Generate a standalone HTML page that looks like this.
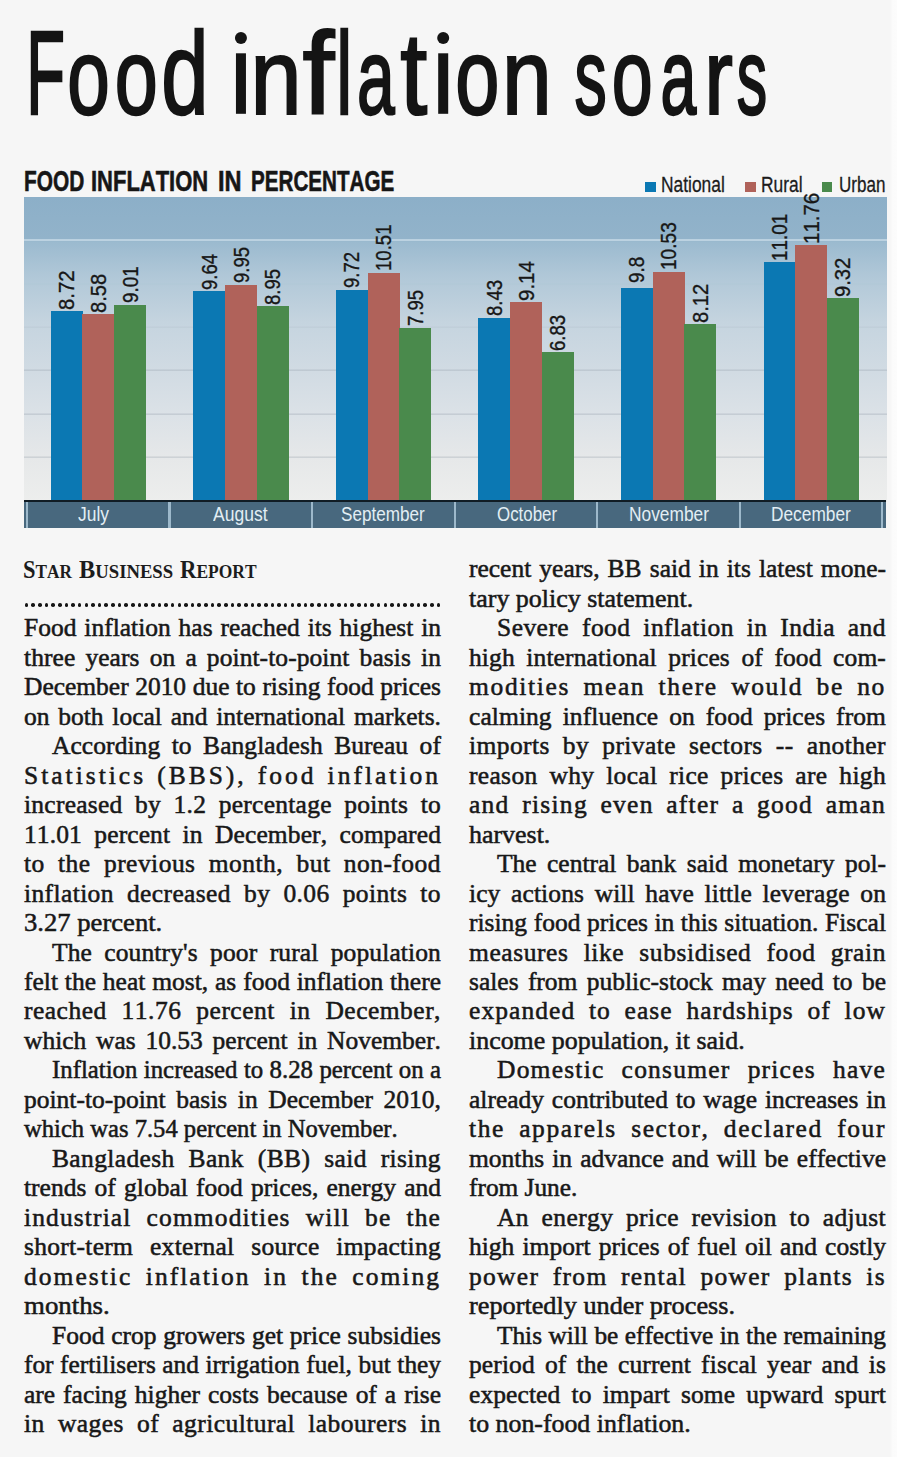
<!DOCTYPE html>
<html><head><meta charset="utf-8">
<style>
*{margin:0;padding:0;box-sizing:border-box}
html,body{width:897px;height:1457px;overflow:hidden;background:#f6f6f6}
body{position:relative;font-family:"Liberation Serif",serif;color:#1e1e1e}
.strip{position:absolute;left:890px;top:0;width:7px;height:1457px;background:linear-gradient(to right,#f6f6f6 0px,#fbfbfb 2.5px,#fcfcfc 7px)}
.p{position:absolute;white-space:nowrap;transform-origin:0 0;font-kerning:none}
.b{position:absolute}
svg text{font-family:'Liberation Sans';fill:#141414;stroke:#141414;font-kerning:none}
.chart{left:24px;top:197px;width:863px;height:305px;
 background:linear-gradient(to bottom,#8cafc8 0px,#92b3ca 42px,#9bbacf 45px,#b1c8d8 80px,#c5d4df 125px,#d1dbe3 175px,#dce2e7 220px,#e6e8e9 262px,#edeeed 305px)}
.lab{font-family:"Liberation Sans",sans-serif;color:#171717;-webkit-text-stroke:0.35px #171717}
.axis{left:24px;top:500px;width:862.4px;height:28.3px;background:#48687e}
.bt{font-size:23.5px;line-height:23.5px;color:#181818;-webkit-text-stroke:0.5px #181818}
.j{white-space:normal;text-align:justify;text-align-last:justify;height:23.5px}
.dot{width:3.6px;height:3.6px;border-radius:50%;background:#161616}
</style></head><body>
<div class="strip"></div>
<svg class="b" style="left:0;top:0" width="897" height="140"><g transform="translate(26.30,113.60) scale(0.5330,1)"><text x="0" y="0" font-size="119" vector-effect="non-scaling-stroke" stroke-width="2.0">F</text></g><g transform="translate(67.29,113.60) scale(0.7079,1)"><text x="0" y="0" font-size="108" vector-effect="non-scaling-stroke" stroke-width="2.0">o</text></g><g transform="translate(114.75,113.60) scale(0.7158,1)"><text x="0" y="0" font-size="108" vector-effect="non-scaling-stroke" stroke-width="2.0">o</text></g><g transform="translate(161.23,113.60) scale(0.7323,1)"><text x="0" y="0" font-size="116" vector-effect="non-scaling-stroke" stroke-width="2.0">d</text></g><rect x="235.95" y="53.3" width="10" height="60.5" fill="#141414"/><circle cx="240.95" cy="37.9" r="6" fill="#141414"/><g transform="translate(250.40,113.60) scale(0.8501,1)"><text x="0" y="0" font-size="108" vector-effect="non-scaling-stroke" stroke-width="2.0">n</text></g><g transform="translate(302.38,113.60) scale(0.9884,1)"><text x="0" y="0" font-size="116" vector-effect="non-scaling-stroke" stroke-width="2.0">f</text></g><g transform="translate(336.24,113.60) scale(0.6200,1)"><text x="0" y="0" font-size="116" vector-effect="non-scaling-stroke" stroke-width="2.0">l</text></g><g transform="translate(356.92,113.60) scale(0.6273,1)"><text x="0" y="0" font-size="108" vector-effect="non-scaling-stroke" stroke-width="2.0">a</text></g><g transform="translate(400.13,113.60) scale(0.8372,1)"><text x="0" y="0" font-size="116" vector-effect="non-scaling-stroke" stroke-width="2.0">t</text></g><rect x="438.20" y="53.3" width="10" height="60.5" fill="#141414"/><circle cx="443.20" cy="37.9" r="6" fill="#141414"/><g transform="translate(455.16,113.60) scale(0.7354,1)"><text x="0" y="0" font-size="108" vector-effect="non-scaling-stroke" stroke-width="2.0">o</text></g><g transform="translate(502.06,113.60) scale(0.8283,1)"><text x="0" y="0" font-size="108" vector-effect="non-scaling-stroke" stroke-width="2.0">n</text></g><g transform="translate(574.51,113.60) scale(0.5967,1)"><text x="0" y="0" font-size="108" vector-effect="non-scaling-stroke" stroke-width="2.0">s</text></g><g transform="translate(611.71,113.60) scale(0.6824,1)"><text x="0" y="0" font-size="108" vector-effect="non-scaling-stroke" stroke-width="2.0">o</text></g><g transform="translate(660.56,113.60) scale(0.5966,1)"><text x="0" y="0" font-size="108" vector-effect="non-scaling-stroke" stroke-width="2.0">a</text></g><g transform="translate(704.29,113.60) scale(0.7963,1)"><text x="0" y="0" font-size="108" vector-effect="non-scaling-stroke" stroke-width="2.0">r</text></g><g transform="translate(736.81,113.60) scale(0.5627,1)"><text x="0" y="0" font-size="108" vector-effect="non-scaling-stroke" stroke-width="2.0">s</text></g></svg>
<span class="p" style="left:23.80px;top:165.82px;font-family:'Liberation Sans';font-weight:bold;font-size:29.5px;line-height:29.5px;color:#161616;transform:scaleX(0.7073);-webkit-text-stroke:0.6px #161616;">FOOD</span>
<span class="p" style="left:91.33px;top:165.82px;font-family:'Liberation Sans';font-weight:bold;font-size:29.5px;line-height:29.5px;color:#161616;transform:scaleX(0.7447);-webkit-text-stroke:0.6px #161616;">INFLATION</span>
<span class="p" style="left:217.72px;top:165.82px;font-family:'Liberation Sans';font-weight:bold;font-size:29.5px;line-height:29.5px;color:#161616;transform:scaleX(0.7988);-webkit-text-stroke:0.6px #161616;">IN</span>
<span class="p" style="left:251.32px;top:165.82px;font-family:'Liberation Sans';font-weight:bold;font-size:29.5px;line-height:29.5px;color:#161616;transform:scaleX(0.6988);-webkit-text-stroke:0.6px #161616;">PERCENTAGE</span>
<div class="b" style="left:645px;top:181.6px;width:11px;height:10.8px;background:#0b78b3"></div>
<span class="p" style="left:661.22px;top:173.67px;font-family:'Liberation Sans';font-weight:normal;font-size:22px;line-height:22px;color:#1c1c1c;transform:scaleX(0.7903);-webkit-text-stroke:0.3px #1c1c1c;">National</span>
<div class="b" style="left:745px;top:181.6px;width:11px;height:10.8px;background:#b0625a"></div>
<span class="p" style="left:760.72px;top:173.67px;font-family:'Liberation Sans';font-weight:normal;font-size:22px;line-height:22px;color:#1c1c1c;transform:scaleX(0.7911);-webkit-text-stroke:0.3px #1c1c1c;">Rural</span>
<div class="b" style="left:821.6px;top:181.6px;width:10.899999999999977px;height:10.8px;background:#4a8a4c"></div>
<span class="p" style="left:838.54px;top:173.67px;font-family:'Liberation Sans';font-weight:normal;font-size:22px;line-height:22px;color:#1c1c1c;transform:scaleX(0.7747);-webkit-text-stroke:0.3px #1c1c1c;">Urban</span>
<div class="b chart"></div>
<div class="b" style="left:24px;top:456px;width:863px;height:1px;background:rgba(120,132,145,0.13)"></div>
<div class="b" style="left:24px;top:457px;width:863px;height:1px;background:rgba(120,132,145,0.22)"></div>
<div class="b" style="left:24px;top:413px;width:863px;height:1px;background:rgba(120,132,145,0.13)"></div>
<div class="b" style="left:24px;top:414px;width:863px;height:1px;background:rgba(120,132,145,0.22)"></div>
<div class="b" style="left:24px;top:369px;width:863px;height:1px;background:rgba(120,132,145,0.12)"></div>
<div class="b" style="left:24px;top:370px;width:863px;height:1px;background:rgba(120,132,145,0.20)"></div>
<div class="b" style="left:24px;top:326px;width:863px;height:1px;background:rgba(120,132,145,0.04)"></div>
<div class="b" style="left:24px;top:327px;width:863px;height:1px;background:rgba(120,132,145,0.07)"></div>
<div class="b" style="left:24px;top:283px;width:863px;height:1px;background:rgba(120,132,145,0.01)"></div>
<div class="b" style="left:24px;top:284px;width:863px;height:1px;background:rgba(120,132,145,0.02)"></div>
<div class="b" style="left:24px;top:239.16px;width:863px;height:2px;background:rgba(225,238,246,0.5)"></div>
<div class="b" style="left:50.77px;top:311.40px;width:31.97px;height:190.60px;background:#0b78b3"></div>
<div class="b" style="left:82.44px;top:314.44px;width:31.97px;height:187.56px;background:#b0625a"></div>
<div class="b" style="left:114.11px;top:305.10px;width:31.97px;height:196.90px;background:#4a8a4c"></div>
<div class="b" style="left:193.32px;top:291.42px;width:31.97px;height:210.58px;background:#0b78b3"></div>
<div class="b" style="left:224.99px;top:284.69px;width:31.97px;height:217.31px;background:#b0625a"></div>
<div class="b" style="left:256.66px;top:306.41px;width:31.97px;height:195.59px;background:#4a8a4c"></div>
<div class="b" style="left:335.87px;top:289.68px;width:31.97px;height:212.32px;background:#0b78b3"></div>
<div class="b" style="left:367.54px;top:272.52px;width:31.97px;height:229.48px;background:#b0625a"></div>
<div class="b" style="left:399.21px;top:328.13px;width:31.97px;height:173.87px;background:#4a8a4c"></div>
<div class="b" style="left:478.42px;top:317.70px;width:31.97px;height:184.30px;background:#0b78b3"></div>
<div class="b" style="left:510.09px;top:302.28px;width:31.97px;height:199.72px;background:#b0625a"></div>
<div class="b" style="left:541.76px;top:352.45px;width:31.97px;height:149.55px;background:#4a8a4c"></div>
<div class="b" style="left:620.97px;top:287.94px;width:31.97px;height:214.06px;background:#0b78b3"></div>
<div class="b" style="left:652.64px;top:272.09px;width:31.97px;height:229.91px;background:#b0625a"></div>
<div class="b" style="left:684.31px;top:324.43px;width:31.97px;height:177.57px;background:#4a8a4c"></div>
<div class="b" style="left:763.52px;top:261.66px;width:31.97px;height:240.34px;background:#0b78b3"></div>
<div class="b" style="left:795.19px;top:245.37px;width:31.97px;height:256.63px;background:#b0625a"></div>
<div class="b" style="left:826.86px;top:298.37px;width:31.97px;height:203.63px;background:#4a8a4c"></div>
<span class="p lab" style="left:56.28px;top:309.68px;font-size:22.0px;line-height:22.0px;transform:rotate(-90deg) scaleX(0.9201)">8.72</span>
<span class="p lab" style="left:87.95px;top:312.72px;font-size:22.0px;line-height:22.0px;transform:rotate(-90deg) scaleX(0.9167)">8.58</span>
<span class="p lab" style="left:119.62px;top:303.39px;font-size:22.0px;line-height:22.0px;transform:rotate(-90deg) scaleX(0.8621)">9.01</span>
<span class="p lab" style="left:198.83px;top:289.69px;font-size:22.0px;line-height:22.0px;transform:rotate(-90deg) scaleX(0.8450)">9.64</span>
<span class="p lab" style="left:230.50px;top:282.96px;font-size:22.0px;line-height:22.0px;transform:rotate(-90deg) scaleX(0.8450)">9.95</span>
<span class="p lab" style="left:262.17px;top:304.61px;font-size:22.0px;line-height:22.0px;transform:rotate(-90deg) scaleX(0.8450)">8.95</span>
<span class="p lab" style="left:341.38px;top:287.95px;font-size:22.0px;line-height:22.0px;transform:rotate(-90deg) scaleX(0.8450)">9.72</span>
<span class="p lab" style="left:373.05px;top:271.34px;font-size:22.0px;line-height:22.0px;transform:rotate(-90deg) scaleX(0.8450)">10.51</span>
<span class="p lab" style="left:404.72px;top:326.48px;font-size:22.0px;line-height:22.0px;transform:rotate(-90deg) scaleX(0.8450)">7.95</span>
<span class="p lab" style="left:483.93px;top:315.91px;font-size:22.0px;line-height:22.0px;transform:rotate(-90deg) scaleX(0.8450)">8.43</span>
<span class="p lab" style="left:515.60px;top:300.64px;font-size:22.0px;line-height:22.0px;transform:rotate(-90deg) scaleX(0.9333)">9.14</span>
<span class="p lab" style="left:547.27px;top:350.80px;font-size:22.0px;line-height:22.0px;transform:rotate(-90deg) scaleX(0.8450)">6.83</span>
<span class="p lab" style="left:626.48px;top:282.83px;font-size:22.0px;line-height:22.0px;transform:rotate(-90deg) scaleX(0.8638)">9.8</span>
<span class="p lab" style="left:658.15px;top:270.04px;font-size:22.0px;line-height:22.0px;transform:rotate(-90deg) scaleX(0.8681)">10.53</span>
<span class="p lab" style="left:689.82px;top:322.71px;font-size:22.0px;line-height:22.0px;transform:rotate(-90deg) scaleX(0.9177)">8.12</span>
<span class="p lab" style="left:769.03px;top:260.50px;font-size:22.0px;line-height:22.0px;transform:rotate(-90deg) scaleX(0.8584)">11.01</span>
<span class="p lab" style="left:800.70px;top:244.33px;font-size:22.0px;line-height:22.0px;transform:rotate(-90deg) scaleX(0.9311)">11.76</span>
<span class="p lab" style="left:832.37px;top:296.72px;font-size:22.0px;line-height:22.0px;transform:rotate(-90deg) scaleX(0.9194)">9.32</span>
<div class="b axis"></div>
<div class="b" style="left:24px;top:499.6px;width:862.4px;height:2.6px;background:#101c24"></div>
<div class="b" style="left:25.90px;top:502px;width:2.2px;height:26.3px;background:#9db9cb"></div>
<div class="b" style="left:168.45px;top:502px;width:2.2px;height:26.3px;background:#9db9cb"></div>
<div class="b" style="left:311.00px;top:502px;width:2.2px;height:26.3px;background:#9db9cb"></div>
<div class="b" style="left:453.55px;top:502px;width:2.2px;height:26.3px;background:#9db9cb"></div>
<div class="b" style="left:596.10px;top:502px;width:2.2px;height:26.3px;background:#9db9cb"></div>
<div class="b" style="left:738.65px;top:502px;width:2.2px;height:26.3px;background:#9db9cb"></div>
<div class="b" style="left:881.20px;top:502px;width:2.2px;height:26.3px;background:#9db9cb"></div>
<span class="p" style="left:77.73px;top:503.94px;font-family:'Liberation Sans';font-weight:normal;font-size:20.5px;line-height:20.5px;color:#e2eef4;transform:scaleX(0.8505);">July</span>
<span class="p" style="left:213.27px;top:503.94px;font-family:'Liberation Sans';font-weight:normal;font-size:20.5px;line-height:20.5px;color:#e2eef4;transform:scaleX(0.8549);">August</span>
<span class="p" style="left:341.12px;top:503.94px;font-family:'Liberation Sans';font-weight:normal;font-size:20.5px;line-height:20.5px;color:#e2eef4;transform:scaleX(0.8353);">September</span>
<span class="p" style="left:496.50px;top:503.94px;font-family:'Liberation Sans';font-weight:normal;font-size:20.5px;line-height:20.5px;color:#e2eef4;transform:scaleX(0.8239);">October</span>
<span class="p" style="left:628.88px;top:503.94px;font-family:'Liberation Sans';font-weight:normal;font-size:20.5px;line-height:20.5px;color:#e2eef4;transform:scaleX(0.8461);">November</span>
<span class="p" style="left:771.18px;top:503.94px;font-family:'Liberation Sans';font-weight:normal;font-size:20.5px;line-height:20.5px;color:#e2eef4;transform:scaleX(0.8440);">December</span>
<div class="p bt j" style="left:24.00px;top:616.38px;width:384.33px;transform:scale(1.0850,1.06)">Food inflation has reached its highest in</div>
<div class="p bt j" style="left:24.00px;top:645.85px;width:384.33px;transform:scale(1.0850,1.06);letter-spacing:0.064px">three years on a point-to-point basis in</div>
<div class="p bt j" style="left:24.00px;top:675.32px;width:384.88px;transform:scale(1.0835,1.06)">December 2010 due to rising food prices</div>
<div class="p bt j" style="left:24.00px;top:704.79px;width:384.33px;transform:scale(1.0850,1.06)">on both local and international markets.</div>
<div class="p bt j" style="left:52.00px;top:734.26px;width:358.53px;transform:scale(1.0850,1.06);letter-spacing:0.065px">According to Bangladesh Bureau of</div>
<div class="p bt j" style="left:24.00px;top:763.73px;width:384.33px;transform:scale(1.0850,1.06);letter-spacing:2.767px">Statistics (BBS), food inflation</div>
<div class="p bt j" style="left:24.00px;top:793.20px;width:384.33px;transform:scale(1.0850,1.06);letter-spacing:0.236px">increased by 1.2 percentage points to</div>
<div class="p bt j" style="left:24.00px;top:822.67px;width:384.33px;transform:scale(1.0850,1.06);letter-spacing:0.101px">11.01 percent in December, compared</div>
<div class="p bt j" style="left:24.00px;top:852.14px;width:384.33px;transform:scale(1.0850,1.06);letter-spacing:0.437px">to the previous month, but non-food</div>
<div class="p bt j" style="left:24.00px;top:881.61px;width:384.33px;transform:scale(1.0850,1.06);letter-spacing:0.358px">inflation decreased by 0.06 points to</div>
<span class="p bt" style="left:24.00px;top:911.08px;transform:scale(1.1330,1.06)">3.27 percent.</span>
<div class="p bt j" style="left:52.00px;top:940.55px;width:358.53px;transform:scale(1.0850,1.06);letter-spacing:0.113px">The country's poor rural population</div>
<div class="p bt j" style="left:24.00px;top:970.02px;width:384.33px;transform:scale(1.0850,1.06)">felt the heat most, as food inflation there</div>
<div class="p bt j" style="left:24.00px;top:999.49px;width:384.33px;transform:scale(1.0850,1.06);letter-spacing:0.454px">reached 11.76 percent in December,</div>
<div class="p bt j" style="left:24.00px;top:1028.96px;width:384.33px;transform:scale(1.0850,1.06)">which was 10.53 percent in November.</div>
<div class="p bt j" style="left:52.00px;top:1058.43px;width:368.48px;transform:scale(1.0557,1.06)">Inflation increased to 8.28 percent on a</div>
<div class="p bt j" style="left:24.00px;top:1087.90px;width:384.33px;transform:scale(1.0850,1.06)">point-to-point basis in December 2010,</div>
<span class="p bt" style="left:24.00px;top:1117.37px;transform:scale(1.0467,1.06)">which was 7.54 percent in November.</span>
<div class="p bt j" style="left:52.00px;top:1146.84px;width:358.53px;transform:scale(1.0850,1.06);letter-spacing:0.337px">Bangladesh Bank (BB) said rising</div>
<div class="p bt j" style="left:24.00px;top:1176.31px;width:384.33px;transform:scale(1.0850,1.06)">trends of global food prices, energy and</div>
<div class="p bt j" style="left:24.00px;top:1205.78px;width:384.33px;transform:scale(1.0850,1.06);letter-spacing:1.029px">industrial commodities will be the</div>
<div class="p bt j" style="left:24.00px;top:1235.25px;width:384.33px;transform:scale(1.0850,1.06);letter-spacing:0.278px">short-term external source impacting</div>
<div class="p bt j" style="left:24.00px;top:1264.72px;width:384.33px;transform:scale(1.0850,1.06);letter-spacing:1.865px">domestic inflation in the coming</div>
<span class="p bt" style="left:24.00px;top:1294.19px;transform:scale(1.1424,1.06)">months.</span>
<div class="p bt j" style="left:52.00px;top:1323.66px;width:358.53px;transform:scale(1.0850,1.06)">Food crop growers get price subsidies</div>
<div class="p bt j" style="left:24.00px;top:1353.13px;width:386.83px;transform:scale(1.0780,1.06)">for fertilisers and irrigation fuel, but they</div>
<div class="p bt j" style="left:24.00px;top:1382.60px;width:384.33px;transform:scale(1.0850,1.06)">are facing higher costs because of a rise</div>
<div class="p bt j" style="left:24.00px;top:1412.07px;width:384.33px;transform:scale(1.0850,1.06);letter-spacing:0.401px">in wages of agricultural labourers in</div>
<div class="p bt j" style="left:469.00px;top:557.44px;width:384.33px;transform:scale(1.0850,1.06)">recent years, BB said in its latest mone-</div>
<span class="p bt" style="left:469.00px;top:586.91px;transform:scale(1.1048,1.06)">tary policy statement.</span>
<div class="p bt j" style="left:497.00px;top:616.38px;width:358.53px;transform:scale(1.0850,1.06);letter-spacing:0.423px">Severe food inflation in India and</div>
<div class="p bt j" style="left:469.00px;top:645.85px;width:384.33px;transform:scale(1.0850,1.06);letter-spacing:0.113px">high international prices of food com-</div>
<div class="p bt j" style="left:469.00px;top:675.32px;width:384.33px;transform:scale(1.0850,1.06);letter-spacing:1.530px">modities mean there would be no</div>
<div class="p bt j" style="left:469.00px;top:704.79px;width:384.33px;transform:scale(1.0850,1.06);letter-spacing:0.075px">calming influence on food prices from</div>
<div class="p bt j" style="left:469.00px;top:734.26px;width:384.33px;transform:scale(1.0850,1.06);letter-spacing:0.372px">imports by private sectors -- another</div>
<div class="p bt j" style="left:469.00px;top:763.73px;width:384.33px;transform:scale(1.0850,1.06);letter-spacing:0.307px">reason why local rice prices are high</div>
<div class="p bt j" style="left:469.00px;top:793.20px;width:384.33px;transform:scale(1.0850,1.06);letter-spacing:1.172px">and rising even after a good aman</div>
<span class="p bt" style="left:469.00px;top:822.67px;transform:scale(1.1027,1.06)">harvest.</span>
<div class="p bt j" style="left:497.00px;top:852.14px;width:358.53px;transform:scale(1.0850,1.06)">The central bank said monetary pol-</div>
<div class="p bt j" style="left:469.00px;top:881.61px;width:384.33px;transform:scale(1.0850,1.06);letter-spacing:0.101px">icy actions will have little leverage on</div>
<div class="p bt j" style="left:469.00px;top:911.08px;width:384.33px;transform:scale(1.0850,1.06)">rising food prices in this situation. Fiscal</div>
<div class="p bt j" style="left:469.00px;top:940.55px;width:384.33px;transform:scale(1.0850,1.06);letter-spacing:0.537px">measures like subsidised food grain</div>
<div class="p bt j" style="left:469.00px;top:970.02px;width:384.33px;transform:scale(1.0850,1.06)">sales from public-stock may need to be</div>
<div class="p bt j" style="left:469.00px;top:999.49px;width:384.33px;transform:scale(1.0850,1.06);letter-spacing:0.985px">expanded to ease hardships of low</div>
<span class="p bt" style="left:469.00px;top:1028.96px;transform:scale(1.1029,1.06)">income population, it said.</span>
<div class="p bt j" style="left:497.00px;top:1058.43px;width:358.53px;transform:scale(1.0850,1.06);letter-spacing:1.127px">Domestic consumer prices have</div>
<div class="p bt j" style="left:469.00px;top:1087.90px;width:384.33px;transform:scale(1.0850,1.06)">already contributed to wage increases in</div>
<div class="p bt j" style="left:469.00px;top:1117.37px;width:384.33px;transform:scale(1.0850,1.06);letter-spacing:1.461px">the apparels sector, declared four</div>
<div class="p bt j" style="left:469.00px;top:1146.84px;width:384.33px;transform:scale(1.0850,1.06)">months in advance and will be effective</div>
<span class="p bt" style="left:469.00px;top:1176.31px;transform:scale(1.0782,1.06)">from June.</span>
<div class="p bt j" style="left:497.00px;top:1205.78px;width:358.53px;transform:scale(1.0850,1.06);letter-spacing:0.361px">An energy price revision to adjust</div>
<div class="p bt j" style="left:469.00px;top:1235.25px;width:384.33px;transform:scale(1.0850,1.06)">high import prices of fuel oil and costly</div>
<div class="p bt j" style="left:469.00px;top:1264.72px;width:384.33px;transform:scale(1.0850,1.06);letter-spacing:1.199px">power from rental power plants is</div>
<span class="p bt" style="left:469.00px;top:1294.19px;transform:scale(1.1169,1.06)">reportedly under process.</span>
<div class="p bt j" style="left:497.00px;top:1323.66px;width:361.29px;transform:scale(1.0767,1.06)">This will be effective in the remaining</div>
<div class="p bt j" style="left:469.00px;top:1353.13px;width:384.33px;transform:scale(1.0850,1.06);letter-spacing:0.108px">period of the current fiscal year and is</div>
<div class="p bt j" style="left:469.00px;top:1382.60px;width:384.33px;transform:scale(1.0850,1.06);letter-spacing:0.090px">expected to impart some upward spurt</div>
<span class="p bt" style="left:469.00px;top:1412.07px;transform:scale(1.0993,1.06)">to non-food inflation.</span>
<span class="p" style="left:23.31px;top:557.37px;font-family:'Liberation Serif';font-weight:bold;font-size:25.0px;line-height:25.0px;color:#1c1c1c;transform:scaleX(0.8972)">S<span style="font-size:19.2px">TAR</span></span>
<span class="p" style="left:79.20px;top:557.37px;font-family:'Liberation Serif';font-weight:bold;font-size:25.0px;line-height:25.0px;color:#1c1c1c;transform:scaleX(0.9739)">B<span style="font-size:19.2px">USINESS</span></span>
<span class="p" style="left:179.51px;top:557.37px;font-family:'Liberation Serif';font-weight:bold;font-size:25.0px;line-height:25.0px;color:#1c1c1c;transform:scaleX(0.9104)">R<span style="font-size:19.2px">EPORT</span></span>
<div class="b dot" style="left:24.70px;top:603.4px"></div>
<div class="b dot" style="left:31.35px;top:603.4px"></div>
<div class="b dot" style="left:37.99px;top:603.4px"></div>
<div class="b dot" style="left:44.64px;top:603.4px"></div>
<div class="b dot" style="left:51.28px;top:603.4px"></div>
<div class="b dot" style="left:57.93px;top:603.4px"></div>
<div class="b dot" style="left:64.57px;top:603.4px"></div>
<div class="b dot" style="left:71.22px;top:603.4px"></div>
<div class="b dot" style="left:77.86px;top:603.4px"></div>
<div class="b dot" style="left:84.51px;top:603.4px"></div>
<div class="b dot" style="left:91.15px;top:603.4px"></div>
<div class="b dot" style="left:97.80px;top:603.4px"></div>
<div class="b dot" style="left:104.44px;top:603.4px"></div>
<div class="b dot" style="left:111.09px;top:603.4px"></div>
<div class="b dot" style="left:117.73px;top:603.4px"></div>
<div class="b dot" style="left:124.38px;top:603.4px"></div>
<div class="b dot" style="left:131.02px;top:603.4px"></div>
<div class="b dot" style="left:137.67px;top:603.4px"></div>
<div class="b dot" style="left:144.31px;top:603.4px"></div>
<div class="b dot" style="left:150.96px;top:603.4px"></div>
<div class="b dot" style="left:157.60px;top:603.4px"></div>
<div class="b dot" style="left:164.25px;top:603.4px"></div>
<div class="b dot" style="left:170.89px;top:603.4px"></div>
<div class="b dot" style="left:177.54px;top:603.4px"></div>
<div class="b dot" style="left:184.18px;top:603.4px"></div>
<div class="b dot" style="left:190.83px;top:603.4px"></div>
<div class="b dot" style="left:197.47px;top:603.4px"></div>
<div class="b dot" style="left:204.12px;top:603.4px"></div>
<div class="b dot" style="left:210.76px;top:603.4px"></div>
<div class="b dot" style="left:217.41px;top:603.4px"></div>
<div class="b dot" style="left:224.05px;top:603.4px"></div>
<div class="b dot" style="left:230.70px;top:603.4px"></div>
<div class="b dot" style="left:237.35px;top:603.4px"></div>
<div class="b dot" style="left:243.99px;top:603.4px"></div>
<div class="b dot" style="left:250.64px;top:603.4px"></div>
<div class="b dot" style="left:257.28px;top:603.4px"></div>
<div class="b dot" style="left:263.93px;top:603.4px"></div>
<div class="b dot" style="left:270.57px;top:603.4px"></div>
<div class="b dot" style="left:277.22px;top:603.4px"></div>
<div class="b dot" style="left:283.86px;top:603.4px"></div>
<div class="b dot" style="left:290.51px;top:603.4px"></div>
<div class="b dot" style="left:297.15px;top:603.4px"></div>
<div class="b dot" style="left:303.80px;top:603.4px"></div>
<div class="b dot" style="left:310.44px;top:603.4px"></div>
<div class="b dot" style="left:317.09px;top:603.4px"></div>
<div class="b dot" style="left:323.73px;top:603.4px"></div>
<div class="b dot" style="left:330.38px;top:603.4px"></div>
<div class="b dot" style="left:337.02px;top:603.4px"></div>
<div class="b dot" style="left:343.67px;top:603.4px"></div>
<div class="b dot" style="left:350.31px;top:603.4px"></div>
<div class="b dot" style="left:356.96px;top:603.4px"></div>
<div class="b dot" style="left:363.60px;top:603.4px"></div>
<div class="b dot" style="left:370.25px;top:603.4px"></div>
<div class="b dot" style="left:376.89px;top:603.4px"></div>
<div class="b dot" style="left:383.54px;top:603.4px"></div>
<div class="b dot" style="left:390.18px;top:603.4px"></div>
<div class="b dot" style="left:396.83px;top:603.4px"></div>
<div class="b dot" style="left:403.47px;top:603.4px"></div>
<div class="b dot" style="left:410.12px;top:603.4px"></div>
<div class="b dot" style="left:416.76px;top:603.4px"></div>
<div class="b dot" style="left:423.41px;top:603.4px"></div>
<div class="b dot" style="left:430.05px;top:603.4px"></div>
<div class="b dot" style="left:436.70px;top:603.4px"></div>
</body></html>
